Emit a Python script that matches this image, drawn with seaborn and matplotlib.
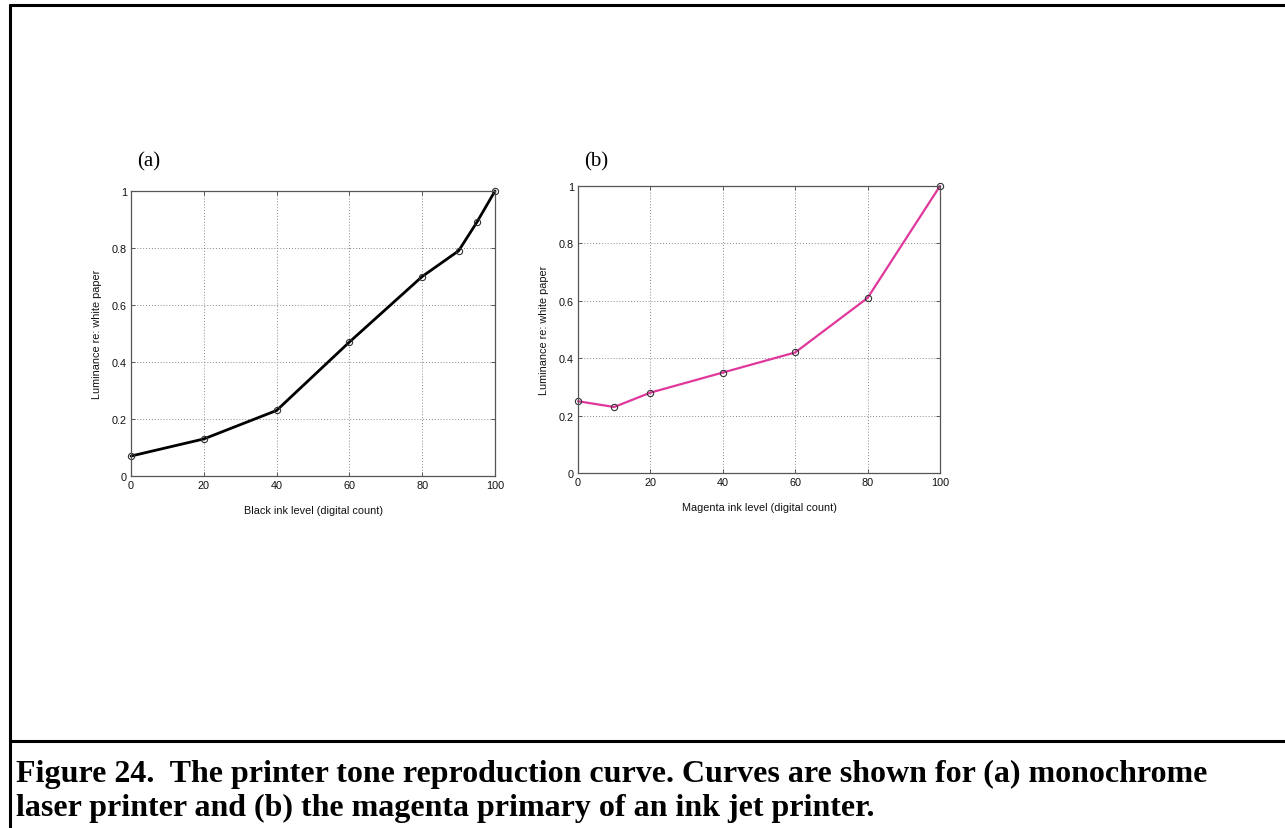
import matplotlib
matplotlib.use("Agg")
import matplotlib.pyplot as plt
from matplotlib.lines import Line2D
import seaborn as sns
import pandas as pd

# Tone reproduction data
black_level = [0, 20, 40, 60, 80, 90, 95, 100]
black_lum = [0.07, 0.13, 0.23, 0.47, 0.70, 0.79, 0.89, 1.00]

magenta_level = [0, 10, 20, 40, 60, 80, 100]
magenta_lum = [0.25, 0.23, 0.28, 0.35, 0.42, 0.61, 1.00]

x_ticks = [0, 20, 40, 60, 80, 100]
y_ticks = [0, 0.2, 0.4, 0.6, 0.8, 1.0]
y_ticklabels = ["0", "0.2", "0.4", "0.6", "0.8", "1"]

sns.set_style("white")
plt.rcParams["font.family"] = ["Liberation Sans", "DejaVu Sans"]
plt.rcParams["text.color"] = "black"

W, H = 1285, 829
fig = plt.figure(figsize=(W / 100, H / 100), dpi=100)


def px_axes(left, top, right, bottom):
    return fig.add_axes([left / W, 1 - bottom / H, (right - left) / W, (bottom - top) / H])


def style(ax, xlabel):
    ax.set_xlim(0, 100)
    ax.set_ylim(0, 1)
    ax.set_xticks(x_ticks)
    ax.set_xticklabels([str(t) for t in x_ticks])
    ax.set_yticks(y_ticks)
    ax.set_yticklabels(y_ticklabels)
    ax.grid(True, linestyle=(0, (1, 2)), color="#888888", linewidth=0.7)
    for s in ax.spines.values():
        s.set_color("#555555")
        s.set_linewidth(0.9)
        s.set_visible(True)
    ax.tick_params(direction="in", length=3, width=0.7, colors="#555555",
                   labelcolor="#111111", labelsize=7.8, top=True, right=True,
                   bottom=True, left=True, pad=3)
    ax.set_xlabel(xlabel, fontsize=7.8, color="#111111", labelpad=11)
    ax.set_ylabel("Luminance re: white paper", fontsize=7.8, color="#111111", labelpad=7)


df_a = pd.DataFrame({"level": black_level, "lum": black_lum})
df_b = pd.DataFrame({"level": magenta_level, "lum": magenta_lum})

ax1 = px_axes(131, 192, 495, 477)
sns.lineplot(data=df_a, x="level", y="lum", ax=ax1, color="black", linewidth=2.0,
             marker="o", markersize=4.5, markerfacecolor="none",
             markeredgecolor="#333333", markeredgewidth=0.8, clip_on=False)
style(ax1, "Black ink level (digital count)")

ax2 = px_axes(578, 187, 940, 474)
sns.lineplot(data=df_b, x="level", y="lum", ax=ax2, color="#e0379b", linewidth=1.6,
             marker="o", markersize=4.5, markerfacecolor="none",
             markeredgecolor="#333333", markeredgewidth=0.8, clip_on=False)
style(ax2, "Magenta ink level (digital count)")

fig.text(137 / W, 1 - 162 / H, "(a)", fontsize=15, family="Liberation Serif",
         ha="left", va="center")
fig.text(584 / W, 1 - 162 / H, "(b)", fontsize=15, family="Liberation Serif",
         ha="left", va="center")

# Frame around the figure and separator above the caption
lw = 2.2
fig.add_artist(Line2D([10 / W, 10 / W], [0, 1 - 6 / H], color="black", linewidth=lw))
fig.add_artist(Line2D([10 / W, 1], [1 - 6 / H, 1 - 6 / H], color="black", linewidth=lw))
fig.add_artist(Line2D([10 / W, 1], [1 - 742 / H, 1 - 742 / H], color="black", linewidth=lw))

caption = ("Figure 24.  The printer tone reproduction curve. Curves are shown for (a) monochrome\n"
           "laser printer and (b) the magenta primary of an ink jet printer.")
fig.text(16 / W, 1 - 760 / H, caption, fontsize=23, family="Liberation Serif",
         fontweight="bold", ha="left", va="top", linespacing=1.2, color="black")

fig.savefig("out.png", dpi=100)
